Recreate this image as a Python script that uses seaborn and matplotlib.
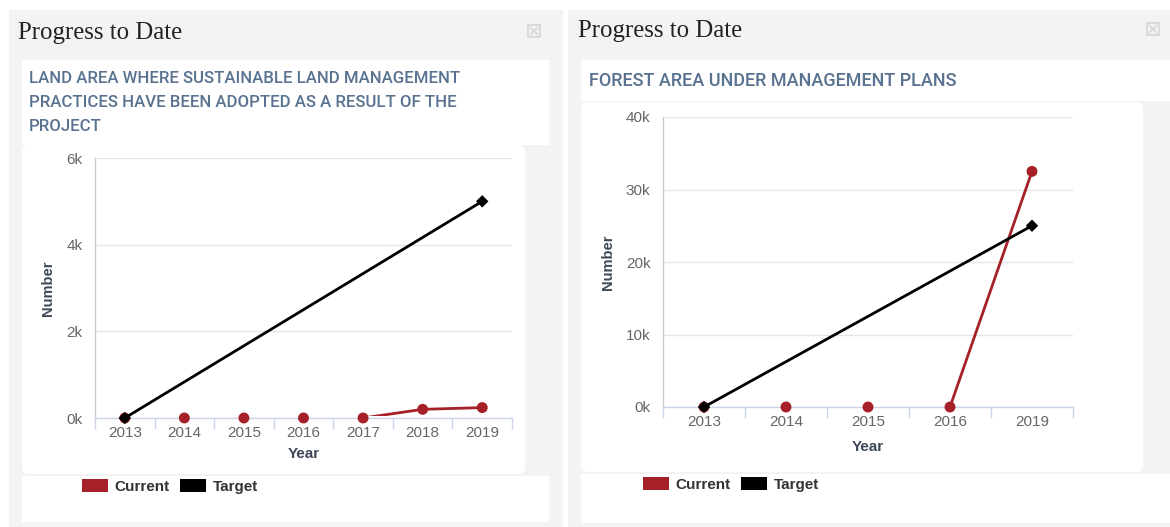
import numpy as np
import matplotlib
matplotlib.use("Agg")
import matplotlib.pyplot as plt
import seaborn as sns
from matplotlib.patches import Rectangle, FancyBboxPatch, Patch
from matplotlib.ticker import FuncFormatter, FixedLocator
from matplotlib.transforms import ScaledTranslation

# ---- data -------------------------------------------------------------
panel_heading = "Progress to Date"
series_names = ["Current", "Target"]
x_label = "Year"
y_label = "Number"

land_title = [
    "LAND AREA WHERE SUSTAINABLE LAND MANAGEMENT",
    "PRACTICES HAVE BEEN ADOPTED AS A RESULT OF THE",
    "PROJECT",
]
land_years = ["2013", "2014", "2015", "2016", "2017", "2018", "2019"]
land_current = [0, 0, 0, 0, 0, 200, 240]
land_target = [0, np.nan, np.nan, np.nan, np.nan, np.nan, 5000]
land_yticks = [0, 2000, 4000, 6000]

forest_title = ["FOREST AREA UNDER MANAGEMENT PLANS"]
forest_years = ["2013", "2014", "2015", "2016", "2019"]
forest_current = [0, 0, 0, 0, 32500]
forest_target = [0, np.nan, np.nan, np.nan, 25000]
forest_yticks = [0, 10000, 20000, 30000, 40000]

# ---- style ------------------------------------------------------------
RED = "#a52127"
BLACK = "#000000"
PANEL_BG = "#f3f3f1"
TITLE_BLUE = "#587290"
AXIS_TEXT = "#3d4756"
TICK_TEXT = "#666666"
GRID = "#e6e6e6"
XAXIS_LINE = "#ccd6eb"

sns.set_theme(style="white")
plt.rcParams["font.family"] = ["Liberation Sans", "DejaVu Sans"]

W, H = 1170, 527
fig = plt.figure(figsize=(W / 100, H / 100), dpi=100)
fig.patch.set_facecolor("white")

# full-figure canvas in pixel units for the card backgrounds and headings
bg = fig.add_axes([0, 0, 1, 1], zorder=0)
bg.set_xlim(0, W)
bg.set_ylim(H, 0)
bg.axis("off")


def rect(x0, y0, x1, y1, color, rounding=0):
    if rounding:
        p = FancyBboxPatch((x0, y0), x1 - x0, y1 - y0,
                           boxstyle=f"round,pad=0,rounding_size={rounding}",
                           facecolor=color, edgecolor="none")
    else:
        p = Rectangle((x0, y0), x1 - x0, y1 - y0, facecolor=color, edgecolor="none")
    bg.add_patch(p)


def close_icon(x0, y0, size):
    bg.add_patch(Rectangle((x0, y0), size, size, facecolor="none",
                           edgecolor="#d6d6d6", linewidth=1.2))
    m = 2.5
    bg.plot([x0 + m, x0 + size - m], [y0 + m, y0 + size - m], color="#d6d6d6", lw=1.2)
    bg.plot([x0 + m, x0 + size - m], [y0 + size - m, y0 + m], color="#d6d6d6", lw=1.2)


def card(gx0, gx1, heading_xy, icon_xy, title_box, chart_box, legend_box,
         title_lines, title_xy, title_size):
    rect(gx0, 10, gx1, H, PANEL_BG)
    bg.text(*heading_xy, panel_heading, family=["Liberation Serif", "DejaVu Serif"],
            fontsize=17.8, color="#222222", va="center", ha="left")
    close_icon(*icon_xy, 12)
    rect(*title_box, "white")
    rect(*chart_box, "white", rounding=7)
    rect(*legend_box, "white")
    tx, ty = title_xy
    for i, line in enumerate(title_lines):
        bg.text(tx, ty + 24 * i, line, family=["Roboto", "DejaVu Sans"],
                fontsize=title_size, fontweight="medium", color=TITLE_BLUE,
                va="baseline", ha="left")


card(9, 563, (18, 33), (528, 25), (22, 60, 549, 145), (22, 145, 525, 474),
     (22, 476, 549, 522), land_title, (29, 83), 12.1)
card(568, 1175, (578, 31), (1147, 23), (581, 60, 1170, 101), (581, 102, 1143, 472),
     (581, 474, 1170, 523), forest_title, (589, 86), 13)


def chart(px_box, years, current, target, yticks, legend_xy, xlabel_pad):
    x0, y0, x1, y1 = px_box
    ax = fig.add_axes([x0 / W, 1 - y1 / H, (x1 - x0) / W, (y1 - y0) / H], zorder=2)
    ax.set_facecolor("none")
    pos = np.arange(len(years))
    cur = np.asarray(current, dtype=float)
    tgt = np.asarray(target, dtype=float)

    # Current series: the line is clipped just above the plot floor, markers are not
    sns.lineplot(x=pos, y=cur, ax=ax, color=RED, linewidth=2, sort=False,
                 errorbar=None, zorder=3)
    line = ax.lines[-1]
    clip = Rectangle((0, 0), 1, 1, transform=ax.transAxes +
                     ScaledTranslation(0, 1.6 / 72, fig.dpi_scale_trans))
    line.set_clip_path(clip)
    sns.scatterplot(x=pos, y=cur, ax=ax, color=RED, s=62, edgecolor="none",
                    linewidth=0, clip_on=False, zorder=4, legend=False)

    # Target series
    ok = ~np.isnan(tgt)
    sns.lineplot(x=pos[ok], y=tgt[ok], ax=ax, color=BLACK, linewidth=2, sort=False,
                 errorbar=None, zorder=5)
    sns.scatterplot(x=pos[ok], y=tgt[ok], ax=ax, color=BLACK, marker="D", s=40,
                    edgecolor="none", linewidth=0, clip_on=False, zorder=6, legend=False)

    ax.set_xlim(-0.5, len(years) - 0.5)
    ax.set_ylim(yticks[0], yticks[-1])
    ax.set_xticks(pos)
    ax.set_xticklabels(years)
    ax.xaxis.set_minor_locator(FixedLocator(np.arange(len(years) + 1) - 0.5))
    ax.tick_params(axis="x", which="major", length=0, pad=6, labelsize=11,
                   labelcolor=TICK_TEXT)
    ax.tick_params(axis="x", which="minor", length=8, width=1, color=XAXIS_LINE,
                   direction="out", bottom=True)
    ax.set_yticks(yticks)
    ax.yaxis.set_major_formatter(FuncFormatter(lambda v, _: f"{int(v / 1000)}k"))
    ax.tick_params(axis="y", length=0, pad=9, labelsize=11, labelcolor=TICK_TEXT)
    ax.grid(axis="y", color=GRID, linewidth=1)
    ax.grid(axis="x", visible=False)
    for side in ("top", "right"):
        ax.spines[side].set_visible(False)
    ax.spines["left"].set_color("#cccccc")
    ax.spines["left"].set_linewidth(1)
    ax.spines["bottom"].set_color(XAXIS_LINE)
    ax.spines["bottom"].set_linewidth(1)

    ax.set_xlabel(x_label, fontsize=11, fontweight="bold", color=AXIS_TEXT,
                  labelpad=xlabel_pad)
    ax.set_ylabel(y_label, fontsize=10.5, fontweight="bold", color=AXIS_TEXT, labelpad=8)

    handles = [Patch(facecolor=RED, edgecolor="none", label=series_names[0]),
               Patch(facecolor=BLACK, edgecolor="none", label=series_names[1])]
    lx, ly = legend_xy
    leg = ax.legend(handles=handles, loc="upper left", ncol=2, frameon=False,
                    bbox_to_anchor=(lx / W, 1 - ly / H), bbox_transform=fig.transFigure,
                    borderpad=0, borderaxespad=0, handlelength=1.7, handleheight=0.95,
                    handletextpad=0.45, columnspacing=0.65,
                    prop={"family": "Liberation Sans", "weight": "bold", "size": 11})
    for t in leg.get_texts():
        t.set_color("#333333")
    return ax


chart((95, 158, 512, 418), land_years, land_current, land_target, land_yticks,
      (82, 479), 5)
chart((663, 117, 1073, 407), forest_years, forest_current, forest_target, forest_yticks,
      (643, 477), 8)

fig.savefig("out.png", dpi=100)
